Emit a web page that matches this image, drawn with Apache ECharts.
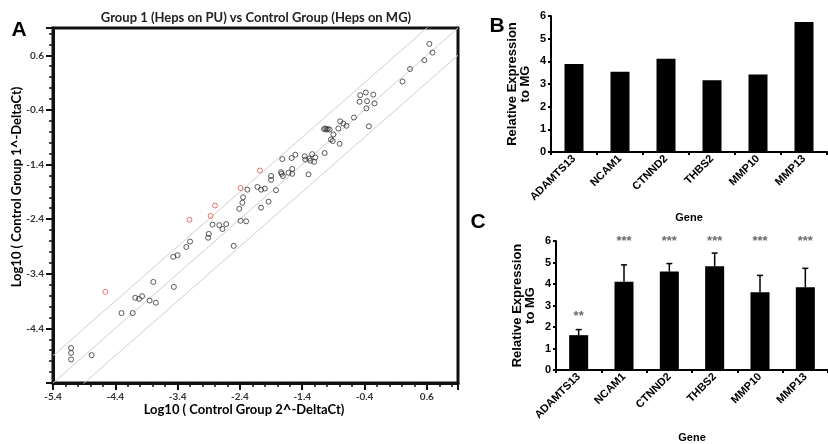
<!DOCTYPE html>
<html><head><meta charset="utf-8">
<script src="https://cdn.jsdelivr.net/npm/echarts@6/dist/echarts.min.js"></script>
<style>html,body{margin:0;padding:0;background:#fff}#c{width:828px;height:444px}</style>
</head><body><div id="c"></div>
<script>
// Panel A: scatter (log10 expression), black = within threshold, red = up-regulated
const pointsA = [[-5.11,-4.76],[-5.11,-4.85],[-5.11,-4.97],[-4.78,-4.89],[-4.30,-4.12],[-4.12,-4.12],[-4.08,-3.84],[-4.02,-3.86],[-3.97,-3.81],[-3.85,-3.89],[-3.79,-3.55],[-3.75,-3.93],[-3.46,-3.64],[-3.47,-3.09],[-3.40,-3.06],[-3.26,-2.91],[-3.20,-2.81],[-2.91,-2.74],[-2.90,-2.67],[-2.84,-2.50],[-2.73,-2.51],[-2.68,-2.58],[-2.62,-2.49],[-2.50,-2.89],[-2.41,-2.21],[-2.36,-2.10],[-2.35,-2.00],[-2.39,-2.43],[-2.30,-2.44],[-2.28,-1.86],[-2.12,-1.81],[-2.06,-1.86],[-2.00,-1.84],[-2.06,-2.19],[-1.94,-2.08],[-1.90,-1.61],[-1.90,-1.68],[-1.82,-1.87],[-1.72,-1.30],[-1.74,-1.54],[-1.73,-1.57],[-1.71,-1.61],[-1.62,-1.55],[-1.56,-1.57],[-1.56,-1.48],[-1.57,-1.28],[-1.51,-1.22],[-1.30,-1.58],[-1.36,-1.25],[-1.35,-1.31],[-1.29,-1.29],[-1.24,-1.21],[-1.19,-1.27],[-1.21,-1.35],[-1.27,-1.33],[-1.04,-1.19],[-1.05,-0.75],[-1.03,-0.74],[-1.01,-0.76],[-0.99,-0.75],[-0.96,-0.76],[-0.94,-0.94],[-0.91,-0.97],[-0.90,-0.85],[-0.82,-0.74],[-0.79,-0.61],[-0.74,-0.65],[-0.69,-0.69],[-0.80,-1.02],[-0.57,-0.54],[-0.33,-0.70],[-0.47,-0.13],[-0.38,-0.08],[-0.26,-0.12],[-0.48,-0.25],[-0.36,-0.24],[-0.24,-0.28],[-0.37,-0.37],[0.21,0.12],[0.33,0.35],[0.56,0.51],[0.64,0.81],[0.69,0.65]];
const pointsUp = [[-4.56,-3.73],[-3.21,-2.41],[-2.87,-2.34],[-2.80,-2.15],[-2.39,-1.83],[-2.08,-1.51]];
const axisRangeA = [-5.4, 1.1];
const boundaryOffsets = [0.5, 0, -0.5];

// Panels B and C
const genes = ['ADAMTS13','NCAM1','CTNND2','THBS2','MMP10','MMP13'];
const valuesB = [3.88, 3.54, 4.11, 3.17, 3.42, 5.73];
const valuesC = [1.62, 4.10, 4.58, 4.82, 3.62, 3.85];
const errorsC = [0.26, 0.79, 0.37, 0.62, 0.78, 0.88];
const signifC = ['**','***','***','***','***','***'];
const signifLevelC = [2.5, 6, 6, 6, 6, 6];

const chart = echarts.init(document.getElementById('c'), null, {renderer:'canvas'});
const LATO = 'Lato';
const ARIAL = 'Liberation Sans';

function axisA(isX){
  return {
    type:'value', gridIndex:0, min:axisRangeA[0], max:axisRangeA[1], interval:1,
    axisLine:{show:true, onZero:false, lineStyle:{color:'#111', width:3}},
    axisTick:{show:true, inside:false, length:7, lineStyle:{color:'#111', width:2}},
    minorTick:{show:true, splitNumber:5, length:4, lineStyle:{color:'#111', width:1.5}},
    splitLine:{show:false}, minorSplitLine:{show:false},
    axisLabel:{show:true, fontFamily:LATO, fontSize:10, fontWeight:'bold', color:'#333', margin:9,
      formatter:(v)=> (Math.abs(v-axisRangeA[1])<1e-6 || (!isX && Math.abs(v-axisRangeA[0])<1e-6)) ? '' : (Math.round(v*10)/10).toFixed(1)}
  };
}
function catAxis(grid, nameGap){
  return {
    type:'category', gridIndex:grid, data:genes,
    axisLine:{show:true, lineStyle:{color:'#000', width:2}},
    axisTick:{show:true, alignWithLabel:false, length:3, lineStyle:{color:'#000', width:2}},
    axisLabel:{rotate:45, fontFamily:ARIAL, fontSize:11, fontWeight:'bold', color:'#000', margin:5, interval:0},
    name:'Gene', nameLocation:'middle', nameGap:nameGap,
    nameTextStyle:{fontFamily:ARIAL, fontSize:11, fontWeight:'bold', color:'#000'}
  };
}
function valAxis(grid){
  return {
    type:'value', gridIndex:grid, min:0, max:6, interval:1,
    axisLine:{show:true, lineStyle:{color:'#000', width:2}},
    axisTick:{show:true, length:3, lineStyle:{color:'#000', width:2}},
    splitLine:{show:false},
    axisLabel:{fontFamily:ARIAL, fontSize:11, fontWeight:'bold', color:'#000', margin:5},
    name:'Relative Expression\nto MG', nameLocation:'middle', nameGap:19,
    nameTextStyle:{fontFamily:ARIAL, fontSize:13, fontWeight:'bold', color:'#000', lineHeight:13}
  };
}

const series = [];
boundaryOffsets.forEach((o)=>{
  series.push({type:'line', xAxisIndex:0, yAxisIndex:0, silent:true, symbol:'none', clip:true,
    lineStyle:{color:'#cfcfcf', width:1}, z:1,
    data: axisRangeA.map(x=>[x, x+o])});
});
series.push({type:'scatter', xAxisIndex:0, yAxisIndex:0, data:pointsA, symbol:'circle', symbolSize:5,
  itemStyle:{color:'rgba(255,255,255,0)', borderColor:'#333', borderWidth:1}, z:3});
series.push({type:'scatter', xAxisIndex:0, yAxisIndex:0, data:pointsUp, symbol:'circle', symbolSize:5,
  itemStyle:{color:'rgba(255,255,255,0)', borderColor:'#e5534b', borderWidth:1}, z:3});
series.push({type:'bar', xAxisIndex:1, yAxisIndex:1, data:valuesB, barWidth:19, itemStyle:{color:'#000'}});
series.push({type:'bar', xAxisIndex:2, yAxisIndex:2, data:valuesC, barWidth:19, itemStyle:{color:'#000'}});
series.push({type:'custom', xAxisIndex:2, yAxisIndex:2, z:5,
  data: genes.map((g,i)=>[i, valuesC[i], valuesC[i]+errorsC[i]]),
  renderItem:(params, api)=>{
    const p0 = api.coord([api.value(0), api.value(1)]);
    const p1 = api.coord([api.value(0), api.value(2)]);
    const st = {stroke:'#000', lineWidth:1.5};
    return {type:'group', children:[
      {type:'line', shape:{x1:p0[0], y1:p0[1], x2:p1[0], y2:p1[1]}, style:st},
      {type:'line', shape:{x1:p1[0]-3, y1:p1[1], x2:p1[0]+3, y2:p1[1]}, style:st}
    ]};
  }});
series.push({type:'scatter', xAxisIndex:2, yAxisIndex:2, symbolSize:0, silent:true,
  data: genes.map((g,i)=>[i, signifLevelC[i]]),
  label:{show:true, position:'inside', formatter:(p)=>signifC[p.dataIndex],
    fontFamily:ARIAL, fontSize:13, fontWeight:'bold', color:'#444'}});

const nameRich = {a:{fontFamily:LATO, fontSize:13, fontWeight:'bold', color:'#222'}, b:{fontFamily:LATO, fontSize:15, fontWeight:'bold', color:'#222'}};
const option = {
  backgroundColor:'#fff',
  animation:false,
  grid:[
    {left:53, top:28, width:405, height:355, show:true, borderColor:'#111', borderWidth:3, backgroundColor:'transparent'},
    {left:551, top:16, width:276, height:136},
    {left:556, top:241, width:272, height:135}
  ],
  xAxis:[axisA(true), catAxis(1, 60), catAxis(2, 62)],
  yAxis:[axisA(false), valAxis(1), valAxis(2)],
  series: series,
  graphic:[
    {type:'text', x:19, y:30, style:{text:'A', fontFamily:ARIAL, fontSize:21, fontWeight:'bold', fill:'#000', align:'center', verticalAlign:'middle'}},
    {type:'text', x:497, y:26, style:{text:'B', fontFamily:ARIAL, fontSize:21, fontWeight:'bold', fill:'#000', align:'center', verticalAlign:'middle'}},
    {type:'text', x:478, y:222, style:{text:'C', fontFamily:ARIAL, fontSize:21, fontWeight:'bold', fill:'#000', align:'center', verticalAlign:'middle'}},
    {type:'text', x:256, y:18, style:{text:'Group 1 (Heps on PU) vs Control Group (Heps on MG)', fontFamily:LATO, fontSize:13, fontWeight:'bold', fill:'#222', align:'center', verticalAlign:'middle'}},
    {type:'text', x:244, y:410, style:{text:'{a|Log10 ( Control Group 2}{b|^}{a|-DeltaCt)}', align:'center', verticalAlign:'middle', rich:nameRich}},
    {type:'text', x:17, y:187, rotation:Math.PI/2, style:{text:'{a|Log10 ( Control Group 1}{b|^}{a|-DeltaCt)}', align:'center', verticalAlign:'middle', rich:nameRich}}
  ]
};
chart.setOption(option);
</script></body></html>
